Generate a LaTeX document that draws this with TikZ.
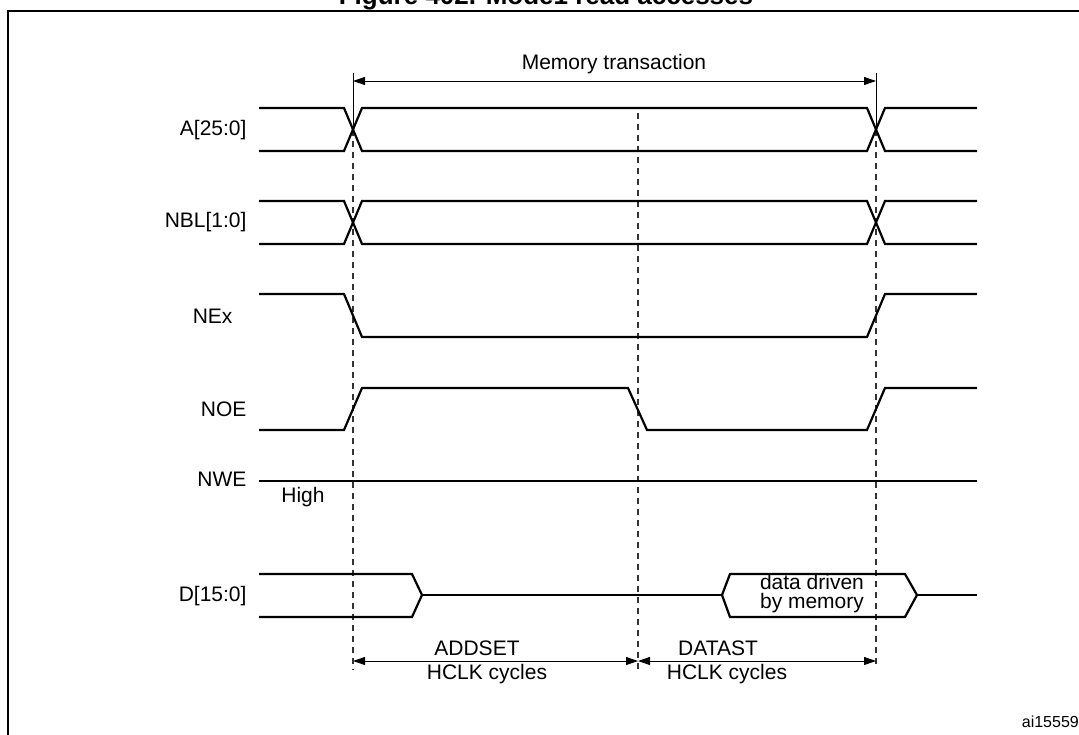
\documentclass[tikz,border=0pt]{standalone}
\usepackage{fontspec}
\setmainfont{Liberation Sans}
\usetikzlibrary{positioning}
\usetikzlibrary{arrows.meta}

\begin{document}
\begin{tikzpicture}[x=1pt,y=-1pt,
  wave/.style={line width=2.2pt,line join=miter},
  guide/.style={line width=1.1pt,dash pattern=on 6pt off 5pt,black!80},
  span/.style={{Triangle[length=12pt,width=8pt]}-{Triangle[length=12pt,width=8pt]},line width=0.9pt},
  sig/.style={anchor=east,font=\fontsize{21}{24}\selectfont},
  lbl/.style={font=\fontsize{21}{19}\selectfont,align=center,inner sep=0pt}]
\useasboundingbox (0,0) rectangle (1079,735);
\draw[line width=2pt] (8,760) |- (1100,11);
\node[anchor=base,font=\fontsize{26}{30}\selectfont\bfseries] (title) at (546,5) {Figure 402. Mode1 read accesses};

% timing marks
\coordinate (ms) at (353,81);
\coordinate (me) at (876,81);
\coordinate (as) at (353,661);
\coordinate (am) at (638,661);
\coordinate (ae) at (876,661);
\draw[line width=0.9pt] (353,73) -- (353,130);
\draw[line width=0.9pt] (876,73) -- (876,130);
\draw[guide] (353,130) -- (353,670);
\draw[guide] (638,113) -- (638,670);
\draw[guide] (876,130) -- (876,665);

\draw[span] (ms) -- (me);
\node[lbl] (memtx) at (614,64) {Memory transaction};

% signal names
\node[sig] (addr) at (250,130) {A[25:0]};
\node[sig] (nbl)  at (250,222) {NBL[1:0]};
\node[sig] (nex)  at (236,316) {NEx};
\node[sig] (noe)  at (250,409) {NOE};
\node[sig] (nwe)  at (250,479) {NWE};
\node[lbl] (high) at (303,497) {High};
\node[sig] (data) at (250,596) {D[15:0]};

% waveforms
\foreach \t/\b in {108/151,201/244}{
  \draw[wave] (259,\t) -- (344,\t) -- (362,\b) -- (867,\b) -- (885,\t) -- (977,\t);
  \draw[wave] (259,\b) -- (344,\b) -- (362,\t) -- (867,\t) -- (885,\b) -- (977,\b);
}
\draw[wave] (259,294) -- (344,294) -- (362,337) -- (867,337) -- (885,294) -- (977,294);
\draw[wave] (259,430) -- (344,430) -- (362,388) -- (628,388) -- (647,430) -- (867,430) -- (885,388) -- (977,388);
\draw[wave] (259,481) -- (977,481);
\draw[wave] (259,574) -- (412,574) -- (422,595) -- (412,617) -- (259,617);
\draw[wave] (422,595) -- (722,595);
\draw[wave] (722,595) -- (730,574) -- (905,574) -- (917,595) -- (905,617) -- (730,617) -- cycle;
\draw[wave] (917,595) -- (977,595);
\node[lbl] (drv) at (812,594) {data driven\\by memory};

% cycle counts
\draw[span] (as) -- (am);
\draw[span] (am) -- (ae);
\node[lbl] (addset) at (477,648) {ADDSET};
\node[lbl] (addclk) at (487,674) {HCLK cycles};
\node[lbl] (datast) at (718,648) {DATAST};
\node[lbl] (datclk) at (727,674) {HCLK cycles};

\node[anchor=east,inner sep=0pt,font=\fontsize{16}{18}\selectfont] (fig) at (1079,722) {ai15559};
\end{tikzpicture}
\end{document}
